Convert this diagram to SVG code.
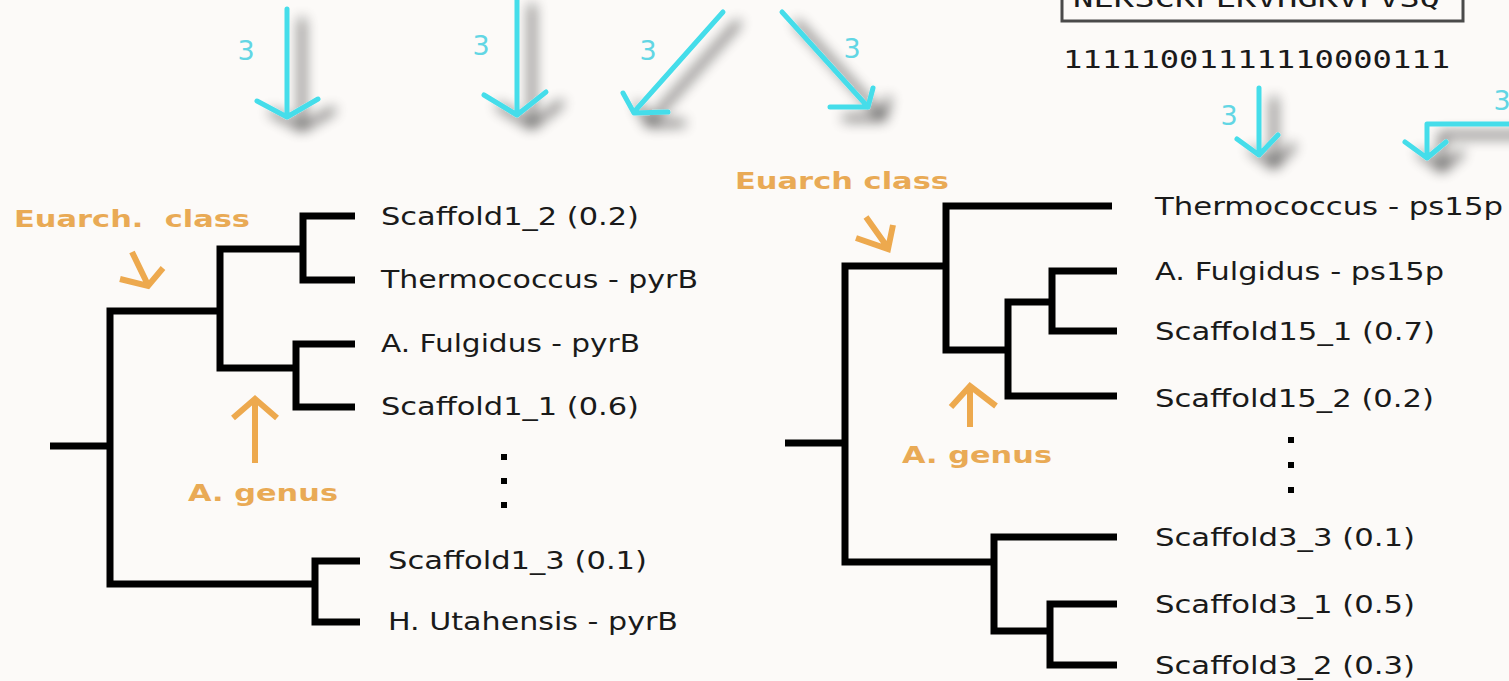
<svg xmlns="http://www.w3.org/2000/svg" width="1509" height="681" viewBox="0 0 1509 681">
<defs>
<style>
.tree{fill:none;stroke:#000;stroke-width:7;stroke-linecap:butt;stroke-linejoin:miter}
.cy{fill:none;stroke:#44DDEA;stroke-width:5;stroke-linecap:round;stroke-linejoin:round}
.or{fill:none;stroke:#EDA94E;stroke-width:6;stroke-linecap:butt;stroke-linejoin:miter}
.lbl{font-family:"DejaVu Sans","Liberation Sans",sans-serif;font-size:24px;fill:#1a1a1a}
.mono{font-family:"DejaVu Sans Mono","Liberation Mono",monospace;font-size:25px;fill:#1a1a1a}
.num{font-family:"DejaVu Sans","Liberation Sans",sans-serif;font-size:27px;fill:#62D6E4;text-anchor:middle}
.ann{font-family:"DejaVu Sans","Liberation Sans",sans-serif;font-size:23px;font-weight:bold;fill:#E9AA55}
</style>
<filter id="sh" x="-60%" y="-40%" width="220%" height="180%">
<feGaussianBlur in="SourceAlpha" stdDeviation="6.5"/>
<feOffset dx="15" dy="11" result="b"/>
<feComponentTransfer><feFuncA type="linear" slope="0.75"/></feComponentTransfer>
<feMerge><feMergeNode/><feMergeNode in="SourceGraphic"/></feMerge>
</filter>
</defs>
<rect width="1509" height="681" fill="#FCFAF8"/>

<g id="seqbox">
<rect x="1062" y="-20" width="401" height="41" fill="none" stroke="#4a4a4a" stroke-width="3"/>
<text class="mono" x="1073" y="7" textLength="367" lengthAdjust="spacingAndGlyphs">NEKSCKPEKVHGKVFVSQ</text>
</g>
<g id="binary">
<text class="mono" x="1063" y="68" textLength="387" lengthAdjust="spacingAndGlyphs">11111001111110000111</text>
</g>

<g id="connectors">
<g id="tree-left" class="tree">
<path d="M50 446 H110"/>
<path d="M220 311 H110 V584 H315"/>
<path d="M303 249 H220 V368 H296"/>
<path d="M355 216 H303 V280 H355"/>
<path d="M355 344 H296 V407 H355"/>
<path d="M360 561 H315 V622 H360"/>
</g>
<g id="tree-right" class="tree">
<path d="M785 443 H845"/>
<path d="M946 266 H845 V562 H994"/>
<path d="M1112 206 H946 V350 H1008"/>
<path d="M1052 302 H1008 V396 H1117"/>
<path d="M1117 271 H1052 V331 H1117"/>
<path d="M1117 537 H994 V631 H1050"/>
<path d="M1117 604 H1050 V665 H1117"/>
</g>
<g id="cyan-arrows" class="cy" filter="url(#sh)">
<path d="M287 9 V117 M257 101 L287 117 L318 99"/>
<path d="M517 -5 V115 M484 95 L517 115 L546 92"/>
<path d="M723 12 L634 112 M623 93 L634 113 L668 112"/>
<path d="M782 12 L868 107 M873 88 L868 107 L830 107"/>
<path d="M1259 88 V155 M1237 139 L1259 155 L1278 135"/>
<path d="M1515 124 H1427 V158 M1405 142 L1427 158 L1446 142"/>
</g>
<g id="orange-arrows" class="or">
<path d="M132 252 L148 285 M120 279 L148 286 L163 268"/>
<path d="M255 463 V401 M233 418 L255 399 L277 418"/>
<path d="M866 217 L888 248 M856 238 L888 249 L893 225"/>
<path d="M970 427 V387 M951 407 L970 386 L996 406"/>
</g>
</g>

<g id="weights">
<text class="num" x="246" y="60">3</text>
<text class="num" x="481" y="55">3</text>
<text class="num" x="648" y="60">3</text>
<text class="num" x="852" y="58">3</text>
<text class="num" x="1229" y="125">3</text>
<text class="num" x="1502" y="110">3</text>
</g>

<g id="ann-left-class"><text class="ann" x="14" y="227" xml:space="preserve" textLength="236" lengthAdjust="spacingAndGlyphs">Euarch.  class</text></g>
<g id="ann-left-genus"><text class="ann" x="188" y="501" textLength="150" lengthAdjust="spacingAndGlyphs">A. genus</text></g>
<g id="ann-right-class"><text class="ann" x="735" y="189" textLength="214" lengthAdjust="spacingAndGlyphs">Euarch class</text></g>
<g id="ann-right-genus"><text class="ann" x="902" y="463" textLength="150" lengthAdjust="spacingAndGlyphs">A. genus</text></g>

<g id="leaf-l1"><text class="lbl" x="381" y="225" textLength="258" lengthAdjust="spacingAndGlyphs">Scaffold1_2 (0.2)</text></g>
<g id="leaf-l2"><text class="lbl" x="381" y="288" textLength="317" lengthAdjust="spacingAndGlyphs">Thermococcus - pyrB</text></g>
<g id="leaf-l3"><text class="lbl" x="381" y="352" textLength="259" lengthAdjust="spacingAndGlyphs">A. Fulgidus - pyrB</text></g>
<g id="leaf-l4"><text class="lbl" x="381" y="415" textLength="258" lengthAdjust="spacingAndGlyphs">Scaffold1_1 (0.6)</text></g>
<g id="dots-l" fill="#000"><rect x="501" y="454" width="6" height="6"/><rect x="501" y="478" width="6" height="6"/><rect x="501" y="502" width="6" height="6"/></g>
<g id="leaf-l5"><text class="lbl" x="388" y="569" textLength="259" lengthAdjust="spacingAndGlyphs">Scaffold1_3 (0.1)</text></g>
<g id="leaf-l6"><text class="lbl" x="388" y="630" textLength="290" lengthAdjust="spacingAndGlyphs">H. Utahensis - pyrB</text></g>

<g id="leaf-r1"><text class="lbl" x="1155" y="215" textLength="348" lengthAdjust="spacingAndGlyphs">Thermococcus - ps15p</text></g>
<g id="leaf-r2"><text class="lbl" x="1155" y="280" textLength="289" lengthAdjust="spacingAndGlyphs">A. Fulgidus - ps15p</text></g>
<g id="leaf-r3"><text class="lbl" x="1155" y="340" textLength="280" lengthAdjust="spacingAndGlyphs">Scaffold15_1 (0.7)</text></g>
<g id="leaf-r4"><text class="lbl" x="1155" y="407" textLength="279" lengthAdjust="spacingAndGlyphs">Scaffold15_2 (0.2)</text></g>
<g id="dots-r" fill="#000"><rect x="1288" y="437" width="6" height="6"/><rect x="1288" y="462" width="6" height="6"/><rect x="1288" y="487" width="6" height="6"/></g>
<g id="leaf-r5"><text class="lbl" x="1155" y="546" textLength="260" lengthAdjust="spacingAndGlyphs">Scaffold3_3 (0.1)</text></g>
<g id="leaf-r6"><text class="lbl" x="1155" y="613" textLength="260" lengthAdjust="spacingAndGlyphs">Scaffold3_1 (0.5)</text></g>
<g id="leaf-r7"><text class="lbl" x="1155" y="674" textLength="260" lengthAdjust="spacingAndGlyphs">Scaffold3_2 (0.3)</text></g>
</svg>
